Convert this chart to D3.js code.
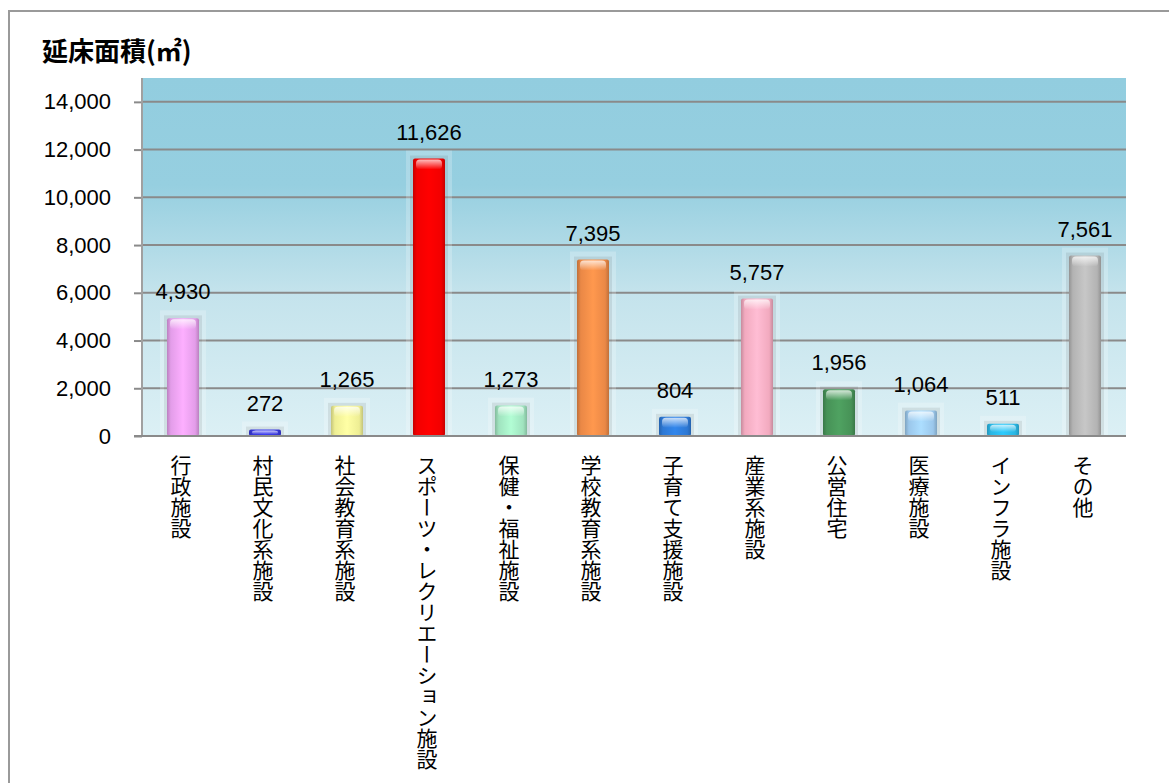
<!DOCTYPE html>
<html><head><meta charset="utf-8">
<script src="https://cdn.jsdelivr.net/npm/d3@7"></script>
<style>
html,body{margin:0;padding:0;background:#fff;}
svg{display:block;}
</style></head>
<body>
<svg id="chart" width="1169" height="783"></svg>
<script>
const categories = ["行政施設","村民文化系施設","社会教育系施設","スポーツ・レクリエーション施設","保健・福祉施設","学校教育系施設","子育て支援施設","産業系施設","公営住宅","医療施設","インフラ施設","その他"];
const values = [4930,272,1265,11626,1273,7395,804,5757,1956,1064,511,7561];
const barColors = ["#f0a6f6","#3b3be6","#fbfb9c","#ff0000","#a9f0c9","#f7904a","#2f7fe0","#ffb3c9","#4b9a5c","#a3d2f8","#2cc0f0","#bdbdbd"];
const yTicks = [0,2000,4000,6000,8000,10000,12000,14000];
const yMax = 15000;
const title = "延床面積(㎡)";

const svg = d3.select("#chart");
const W = 1169, H = 783;
const plot = {left:142, right:1126, top:78, bottom:436};
const numFont = "'Liberation Sans',Arial,sans-serif";
const cjkFont = "'Noto Sans CJK JP','Noto Sans CJK SC',sans-serif";

// outer border
svg.append("rect").attr("x",9).attr("y",11).attr("width",W+10).attr("height",H+10)
  .attr("fill","#fff").attr("stroke","#9a9a9a").attr("stroke-width",2);

const defs = svg.append("defs");
const bg = defs.append("linearGradient").attr("id","bg").attr("x1",0).attr("y1",0).attr("x2",0).attr("y2",1);
[[0,"#92cddf"],[0.3,"#96cfe0"],[0.6,"#c4e3ec"],[1,"#dcf0f5"]].forEach(s=>bg.append("stop").attr("offset",s[0]).attr("stop-color",s[1]));

const x = d3.scaleBand().domain(categories).range([plot.left, plot.right]).paddingInner(0).paddingOuter(0);
const y = d3.scaleLinear().domain([0,yMax]).range([plot.bottom, plot.top]);

svg.append("rect").attr("x",plot.left).attr("y",plot.top).attr("width",plot.right-plot.left).attr("height",plot.bottom-plot.top).attr("fill","url(#bg)");

// gridlines
svg.append("g").selectAll("line").data(yTicks.filter(d=>d>0)).join("line")
  .attr("x1",plot.left).attr("x2",plot.right).attr("y1",d=>y(d)).attr("y2",d=>y(d))
  .attr("stroke","#8a8a8a").attr("stroke-width",2);

// y axis
const yAxis = d3.axisLeft(y).tickValues(yTicks).tickSize(8).tickPadding(23).tickFormat(d3.format(","));
const gy = svg.append("g").attr("transform",`translate(${plot.left},0)`).call(yAxis);
gy.select(".domain").remove();
gy.selectAll(".tick line").attr("stroke","#8a8a8a").attr("stroke-width",2);
gy.selectAll(".tick text").attr("font-family",numFont).attr("font-size",22).attr("fill","#000");
svg.append("line").attr("x1",plot.left).attr("x2",plot.left).attr("y1",plot.top).attr("y2",plot.bottom)
  .attr("stroke","#a0a0a0").attr("stroke-width",2);

// bar gradients
barColors.forEach((c,i)=>{
  const col = d3.color(c);
  const g = defs.append("linearGradient").attr("id","bar"+i).attr("x1",0).attr("x2",1).attr("y1",0).attr("y2",0);
  [[0,col.darker(0.7)],[0.12,col.darker(0.15)],[0.5,col.brighter(0.15)],[0.88,col.darker(0.15)],[1,col.darker(0.7)]]
    .forEach(s=>g.append("stop").attr("offset",s[0]).attr("stop-color",s[1]));
  const h = defs.append("linearGradient").attr("id","cap"+i).attr("x1",0).attr("x2",0).attr("y1",0).attr("y2",1);
  h.append("stop").attr("offset",0).attr("stop-color","#fff").attr("stop-opacity",0.75);
  h.append("stop").attr("offset",1).attr("stop-color","#fff").attr("stop-opacity",0);
});

const bw = 32;
const bars = svg.append("g").selectAll("g").data(values).join("g");
// glow
bars.append("rect")
  .attr("x",(d,i)=>x(categories[i])+x.bandwidth()/2-bw/2-7)
  .attr("y",d=>y(d)-8).attr("width",bw+14).attr("height",d=>plot.bottom-y(d)+8)
  .attr("fill","#ffffff").attr("opacity",0.22);
bars.append("rect")
  .attr("x",(d,i)=>x(categories[i])+x.bandwidth()/2-bw/2-3)
  .attr("y",d=>y(d)-3).attr("width",bw+6).attr("height",d=>plot.bottom-y(d)+3)
  .attr("fill","#000").attr("opacity",0.08);
bars.append("rect")
  .attr("x",(d,i)=>x(categories[i])+x.bandwidth()/2-bw/2)
  .attr("y",d=>y(d)).attr("width",bw).attr("height",d=>plot.bottom-y(d))
  .attr("rx",2).attr("fill",(d,i)=>`url(#bar${i})`);
bars.append("rect")
  .attr("x",(d,i)=>x(categories[i])+x.bandwidth()/2-bw/2+3)
  .attr("y",d=>y(d)+1).attr("width",bw-6).attr("height",d=>Math.min(10,(plot.bottom-y(d))*0.6))
  .attr("rx",4).attr("fill",(d,i)=>`url(#cap${i})`);

// x axis line
svg.append("line").attr("x1",plot.left-8).attr("x2",plot.right).attr("y1",plot.bottom).attr("y2",plot.bottom)
  .attr("stroke","#8a8a8a").attr("stroke-width",2);

// value labels
svg.append("g").selectAll("text").data(values).join("text")
  .attr("x",(d,i)=>x(categories[i])+x.bandwidth()/2)
  .attr("y",d=>y(d)-19)
  .attr("text-anchor","middle").attr("font-family",numFont).attr("font-size",22).attr("fill","#000")
  .text(d=>d3.format(",")(d));

// category labels (vertical)
svg.append("g").selectAll("text").data(categories).join("text")
  .attr("x",(d)=>x(d)+x.bandwidth()/2-2)
  .attr("y",455)
  .attr("font-family",cjkFont).attr("font-size",21).attr("fill","#000")
  .style("writing-mode","vertical-rl").style("text-orientation","mixed")
  .text(d=>d);

// title
svg.append("text").attr("x",42).attr("y",61).attr("font-family",cjkFont).attr("font-weight","bold")
  .attr("font-size",26).attr("fill","#000").text(title);
</script>
</body></html>
